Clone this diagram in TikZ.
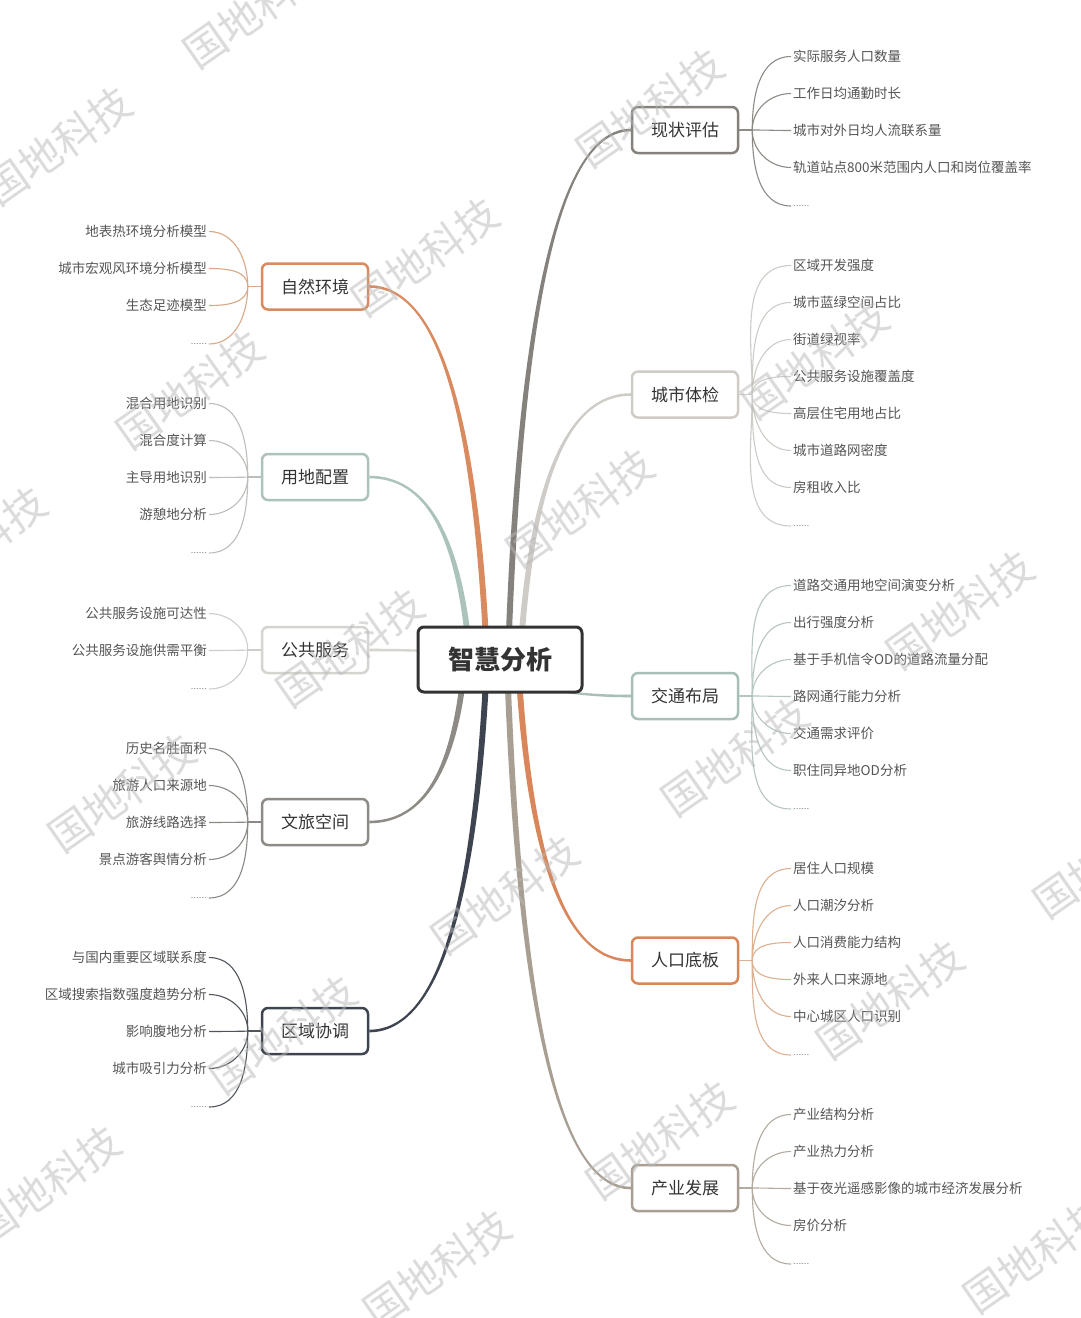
\documentclass[tikz,border=0pt]{standalone}
\usepackage{fontspec}
\setmainfont{Noto Sans CJK SC}
\usetikzlibrary{calc,backgrounds}
\pgfdeclarelayer{foreground}
\pgfsetlayers{background,main,foreground}

\definecolor{cxz}{HTML}{85817C}
\definecolor{ccs}{HTML}{CFCCC7}
\definecolor{cjt}{HTML}{A8BFB7}
\definecolor{crk}{HTML}{D9875A}
\definecolor{ccy}{HTML}{A89F92}
\definecolor{czr}{HTML}{D98A5E}
\definecolor{cyd}{HTML}{ABC3BA}
\definecolor{cgg}{HTML}{D6D4D0}
\definecolor{cwl}{HTML}{8E8A85}
\definecolor{cqy}{HTML}{3E4550}
\definecolor{lxz}{HTML}{8E8B86}
\definecolor{lcs}{HTML}{CFCCC7}
\definecolor{ljt}{HTML}{B5C5BF}
\definecolor{lrk}{HTML}{DDB08F}
\definecolor{lcy}{HTML}{B3ABA0}
\definecolor{lzr}{HTML}{D9A887}
\definecolor{lyd}{HTML}{BDBDBA}
\definecolor{lgg}{HTML}{CFCDCA}
\definecolor{lwl}{HTML}{8C8985}
\definecolor{lqy}{HTML}{50555C}
\definecolor{textdark}{HTML}{333333}
\definecolor{textleaf}{HTML}{555555}
\definecolor{wmgray}{HTML}{B8B8B8}

\tikzset{
  corebox/.style={rounded corners=6pt, line width=3pt, draw=textdark, fill=white,
    minimum width=164pt, minimum height=65pt, text=textdark,
    font=\bfseries\fontsize{26}{26}\selectfont},
  bnode/.style={rounded corners=6pt, line width=2.5pt, fill=white,
    minimum width=106pt, minimum height=46pt, text=textdark,
    font=\fontsize{17}{17}\selectfont},
  leaf/.style={inner sep=2pt, text=textleaf, font=\fontsize{13.5}{15}\selectfont},
  dotsleaf/.style={inner sep=2pt, text=textleaf, font=\fontsize{7.5}{9}\selectfont},
  lf/.style={line width=1.1pt},
  wm/.style={rotate=35, text=wmgray, opacity=0.5, font=\fontsize{42}{42}\selectfont}
}

% right-hand branch: id, title, y, box colour, leaf colour, count (with dots), leaves
\newcommand\RB[7]{%
  \node[bnode, draw=#4] (#1) at (685,#3) {#2};
  \coordinate (#1f) at ($(#1.east)+(13,0)$);
  \draw[lf, draw=#5] (#1.east) -- (#1f);
  \foreach \lbl [count=\i] in {#7}{%
    \pgfmathsetmacro\yy{#3-(#6-1)*18.5+(\i-1)*37}
    \pgfmathsetmacro\ang{\yy<#3-1?90:(\yy>#3+1?-90:0)}
    \node[leaf, anchor=west] (#1l\i) at (791,\yy+0.5) {\lbl};
    \draw[lf, draw=#5] (#1f) to[out=\ang, in=180] (#1l\i.west);
  }
  \pgfmathsetmacro\yy{#3+(#6-1)*18.5}
  \node[dotsleaf, anchor=west] (#1d) at (791,\yy+2) {……};
  \draw[lf, draw=#5] (#1f) to[out=-90, in=180] (#1d.west);
}
% left-hand branch
\newcommand\LB[7]{%
  \node[bnode, draw=#4] (#1) at (315,#3) {#2};
  \coordinate (#1f) at ($(#1.west)+(-13,0)$);
  \draw[lf, draw=#5] (#1.west) -- (#1f);
  \foreach \lbl [count=\i] in {#7}{%
    \pgfmathsetmacro\yy{#3-(#6-1)*18.5+(\i-1)*37}
    \pgfmathsetmacro\ang{\yy<#3-1?90:(\yy>#3+1?-90:0)}
    \node[leaf, anchor=east] (#1l\i) at (209,\yy+0.5) {\lbl};
    \draw[lf, draw=#5] (#1f) to[out=\ang, in=0] (#1l\i.east);
  }
  \pgfmathsetmacro\yy{#3+(#6-1)*18.5}
  \node[dotsleaf, anchor=east] (#1d) at (209,\yy+2) {……};
  \draw[lf, draw=#5] (#1f) to[out=-90, in=0] (#1d.east);
}
% tapered trunk from the hub to a branch node: colour, target anchor, sign, start x offset
\newcommand\trunk[4]{%
  \fill[#1] let \p1=($(hub)+(#4,0)$), \p2=(#2) in
   ({\x1-3pt},{\y1}) .. controls ({\x1+0.1*(\x2-\x1)-3pt},{\y1+0.7*(\y2-\y1)}) and ({\x1+0.45*(\x2-\x1)},{\y2+(#3)*1.3pt}) .. ({\x2},{\y2+(#3)*1.3pt})
   -- ({\x2},{\y2-(#3)*1.3pt}) .. controls ({\x1+0.45*(\x2-\x1)},{\y2-(#3)*1.3pt}) and ({\x1+0.1*(\x2-\x1)+3pt},{\y1+0.7*(\y2-\y1)}) .. ({\x1+3pt},{\y1}) -- cycle;
}

\begin{document}
\begin{tikzpicture}[x=1pt,y=-1pt]
\useasboundingbox (0,0) rectangle (1080,1318);
\begin{pgfonlayer}{background}
\fill[white] (0,0) rectangle (1080,1318);
\end{pgfonlayer}

\coordinate (hub) at (500,660);
\node[corebox] (core) at (500,659.5) {智慧分析};

\RB{xz}{现状评估}{130}{cxz}{lxz}{5}{实际服务人口数量,工作日均通勤时长,城市对外日均人流联系量,轨道站点800米范围内人口和岗位覆盖率}
\RB{cs}{城市体检}{394.5}{ccs}{lcs}{8}{区域开发强度,城市蓝绿空间占比,街道绿视率,公共服务设施覆盖度,高层住宅用地占比,城市道路网密度,房租收入比}
\RB{jt}{交通布局}{696}{cjt}{ljt}{7}{道路交通用地空间演变分析,出行强度分析,基于手机信令OD的道路流量分配,路网通行能力分析,交通需求评价,职住同异地OD分析}
\RB{rk}{人口底板}{960.5}{crk}{lrk}{6}{居住人口规模,人口潮汐分析,人口消费能力结构,外来人口来源地,中心城区人口识别}
\RB{cy}{产业发展}{1188}{ccy}{lcy}{5}{产业结构分析,产业热力分析,基于夜光遥感影像的城市经济发展分析,房价分析}

\LB{zr}{自然环境}{286.5}{czr}{lzr}{4}{地表热环境分析模型,城市宏观风环境分析模型,生态足迹模型}
\LB{yd}{用地配置}{477}{cyd}{lyd}{5}{混合用地识别,混合度计算,主导用地识别,游憩地分析}
\LB{gg}{公共服务}{650}{cgg}{lgg}{3}{公共服务设施可达性,公共服务设施供需平衡}
\LB{wl}{文旅空间}{822}{cwl}{lwl}{5}{历史名胜面积,旅游人口来源地,旅游线路选择,景点游客舆情分析}
\LB{qy}{区域协调}{1031}{cqy}{lqy}{5}{与国内重要区域联系度,区域搜索指数强度趋势分析,影响腹地分析,城市吸引力分析}

\begin{pgfonlayer}{background}
\trunk{cyd}{yd.east}{-1}{-30}
\trunk{cgg}{gg.east}{-1}{-3}
\trunk{cwl}{wl.east}{1}{-35}
\trunk{cqy}{qy.east}{1}{-13}
\trunk{czr}{zr.east}{-1}{-13}
\trunk{ccs}{cs.west}{1}{20}
\trunk{cxz}{xz.west}{1}{8}
\trunk{cjt}{jt.west}{-1}{3}
\trunk{ccy}{cy.west}{-1}{7}
\trunk{crk}{rk.west}{-1}{18}
\end{pgfonlayer}

\begin{pgfonlayer}{foreground}
\foreach \wx/\wy [count=\k] in {257/9, 58/146, 650/108, 425/257, 190/390, 815/360, -27/546,
  580/508, 350/648, 960/610, 735/757, 122/793, 505/895, 1107/859, 890/1000, 283/1035,
  660/1140, 47/1185, 437/1268, 1037/1254}
  \node[wm] (wm\k) at (\wx,\wy) {国地科技};
\end{pgfonlayer}
\end{tikzpicture}
\end{document}
